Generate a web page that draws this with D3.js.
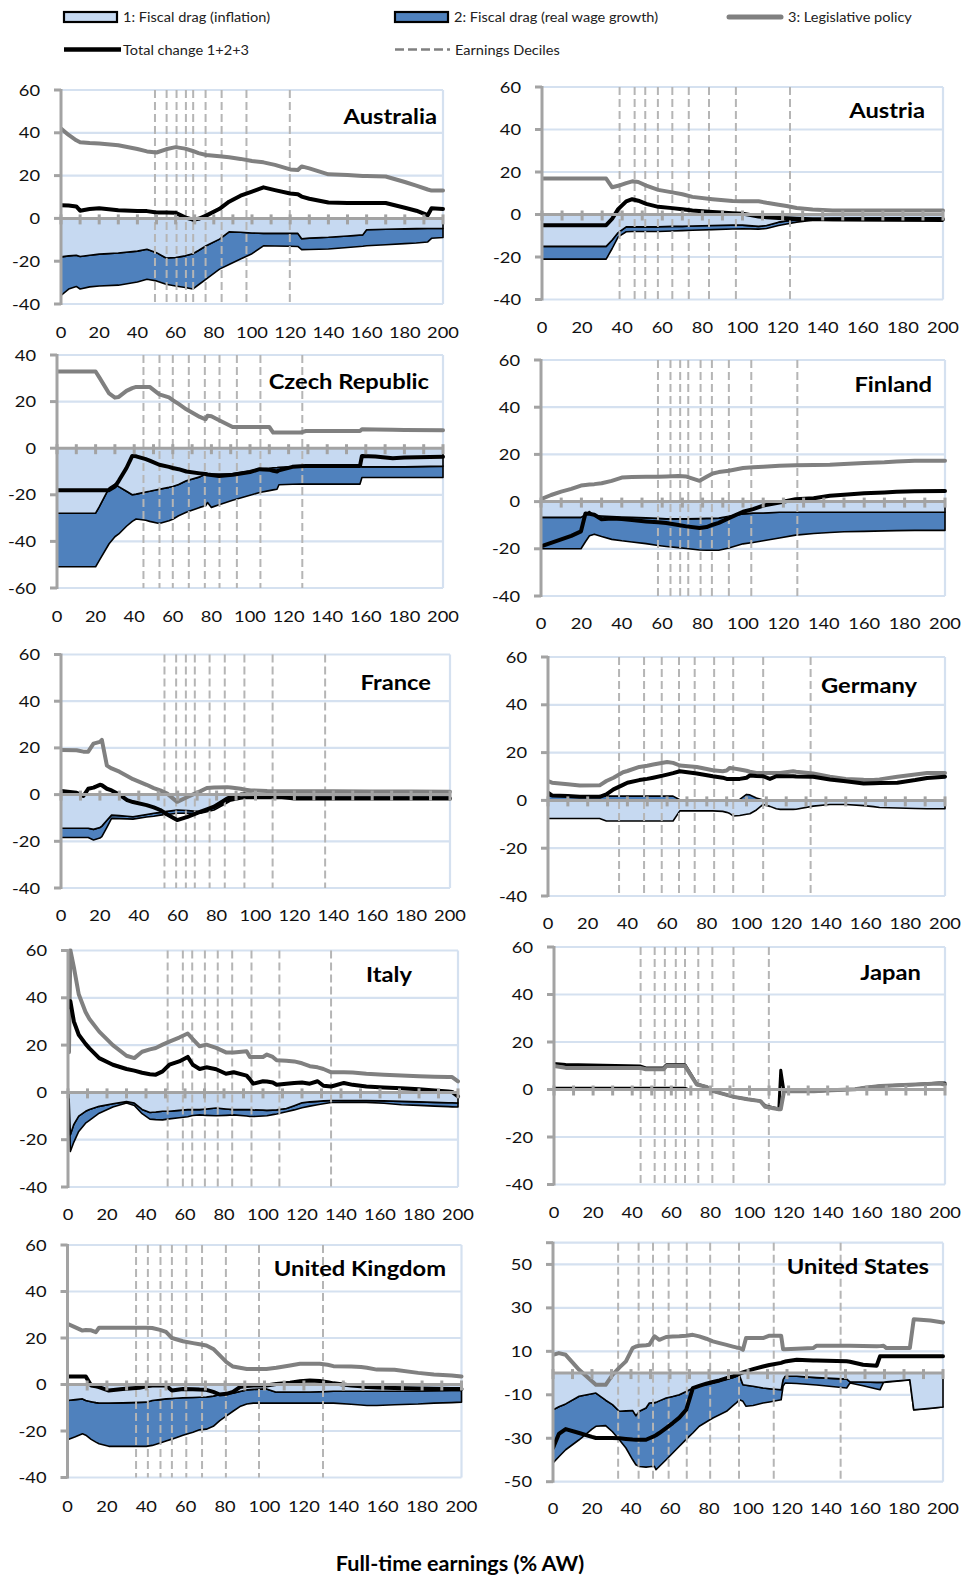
<!DOCTYPE html>
<html>
<head>
<meta charset="utf-8">
<script src="https://cdn.jsdelivr.net/npm/d3@7"></script>
<style>
  html, body { margin: 0; padding: 0; background: #fff; }
  svg { display: block; font-family: Lato, "Open Sans", sans-serif; }
</style>
</head>
<body>
<svg id="chart" width="961" height="1580"></svg>
<script>
// ---------- shared axis values ----------
const xTickLabels = [0, 20, 40, 60, 80, 100, 120, 140, 160, 180, 200];
const xMinorTicks = d3.range(0, 201, 10);
const yTicksStd = [-40, -20, 0, 20, 40, 60];
const yTicksCzech = [-60, -40, -20, 0, 20, 40];
const yTicksUS = [-50, -30, -10, 10, 30, 50];

// ---------- Australia ----------
const ausEarn = [0,4,8,10,15,20,30,40,45,50,55,60,65,69,72,76,83,88,94,100,106,112,120,124,126,130,140,150,158,160,170,180,186,192,194,200];
const ausInflation = [-18,-17.5,-17.2,-17.8,-17.2,-16.7,-16.2,-15.3,-14.4,-16,-18.5,-18.3,-17.5,-16.5,-15,-12.8,-9.7,-6.3,-6.5,-6.8,-7,-7,-7,-7,-9.5,-9.2,-8.8,-8.2,-7.7,-5.3,-5.1,-4.9,-4.8,-4.7,-4.7,-4.7];
const ausRealWage = [-18,-15.5,-14.6,-15.2,-14.8,-14.9,-15,-14.4,-14,-13.2,-12.3,-13.3,-14.8,-16.5,-16,-15.6,-14,-15.2,-12.5,-9.7,-5.8,-5.9,-6,-6.1,-5.1,-5.3,-5.5,-5.4,-5.3,-7.5,-7.2,-6.9,-6.7,-6.3,-4.6,-4.2];
const ausLegislative = [42,39,36.5,35.6,35.2,35,34.2,32.4,31.3,30.8,32.3,33.3,32.6,31.5,30.5,29.6,29,28.6,27.8,26.8,26.2,25,22.9,22.6,24.3,23.4,20.6,20.3,19.8,19.8,19.6,17,15.3,13.5,13,13];
const ausTotal = [6.2,6,5.6,3.6,4.4,4.7,3.8,3.5,3.4,2.8,2.8,2.6,0.5,-0.6,-0.2,1.3,4.5,7.8,10.6,12.5,14.5,13.2,11.6,11.3,10.2,9.2,7.4,7.2,7.2,7.2,7.2,5,3.6,1.5,4.7,4.4];
const ausDeciles = [49.2,55.3,60.5,65.4,69.2,75.7,84.1,97.1,119.8];

// ---------- Austria ----------
const autEarn = [0,10,20,32,35,38,42,45,48,52,58,65,70,75,85,95,100,108,112,118,122,127,135,140,145,160,180,200];
const autInflation = [-15,-15,-15,-15,-12,-8.5,-5.8,-5.8,-5.8,-5.8,-5.8,-5.6,-5.6,-5.4,-5.2,-5,-5,-5.6,-5.2,-3.6,-3,-2.6,-2.2,-2,-1.8,-1.7,-1.6,-1.6];
const autRealWage = [-6,-6,-6,-6,-4,-2,-2.3,-2.2,-2.2,-2.2,-2.2,-2.2,-2,-2,-1.9,-1.8,-1.7,-1.3,-1.4,-1.6,-1.5,-1,-0.5,-0.7,-1,-1.2,-1.4,-1.5];
const autLegislative = [16.9,16.9,16.9,16.9,12.8,13.5,14.8,15.6,15.3,13.6,11.6,10.4,9.5,8.3,7.2,6.3,6.2,6.2,5.5,4.6,4,3.1,2.3,2.1,1.9,1.9,1.9,1.9];
const autTotal = [-5,-5,-5,-5,-2,2.5,6.2,7.2,6.5,5,3.6,3,2.5,1.9,1.2,0.6,0.4,-0.9,-1.3,-1.6,-1.8,-2,-2.2,-2.2,-2.2,-2.2,-2.2,-2.2];
const autDeciles = [38.7,46.2,51.5,57.8,65,73.2,83.3,96.7,123.7];

// ---------- Czech Republic ----------
const czeEarn = [0,10,20,22,27,30,32,36,39,41,46,48,53,58,60,63,67,74,77,78,80,84,91,100,105,110,112,114,115,122,126,129,134,145,157,158,165,174,180,200];
const czeInflation = [-27.9,-27.9,-27.9,-25,-17,-15.4,-16.5,-18.5,-20,-19.7,-18.8,-18.5,-17.6,-16.8,-16.4,-15.6,-14,-12.3,-11.1,-11.1,-11.1,-11.1,-11,-9.8,-9,-8.6,-8.4,-8.3,-8.2,-7.9,-7.6,-7.6,-7.6,-7.6,-7.6,-8,-8,-8,-8,-7.7];
const czeRealWage = [-23,-23,-23,-23,-24,-22.6,-20.3,-15,-11.4,-10.7,-12.1,-12.9,-14.7,-14.3,-14.1,-13.4,-13.5,-13.1,-13.6,-12.2,-14.3,-13.2,-11.3,-10.4,-10,-9.6,-9.5,-9.3,-7.5,-7.6,-7.8,-7.8,-7.8,-7.8,-7.8,-4.6,-4.6,-4.6,-4.6,-4.9];
const czeLegislative = [32.9,32.9,32.9,30.3,23.5,21.7,22,24.6,25.8,26.3,26.3,26.3,23.1,21.8,20.6,19,16.7,13.4,12.4,13.9,13.7,12,9.1,9.1,9.1,9.1,6.7,6.7,6.7,6.7,6.7,7.4,7.4,7.4,7.4,8.1,8,7.9,7.8,7.7];
const czeTotal = [-18,-18,-18,-18,-18,-16.5,-14,-8.5,-3.3,-3.5,-4.7,-5.3,-7.1,-8,-8.5,-9,-10,-10.8,-11.1,-11.3,-11.5,-11.9,-11.4,-10.2,-9,-9.2,-9.7,-10,-9.5,-8,-7.7,-7.6,-7.6,-7.6,-7.6,-3.3,-3.6,-4.3,-4,-3.7];
const czeDeciles = [44.8,53.1,60,68.3,76.6,84.2,93.2,105.4,127.1];

// ---------- Finland ----------
const finEarn = [0,5,10,15,19.8,22,24,26.4,30,35,40,45,52,58,62,68,72,78.5,82,85,88,93,100,105,110,118,126,135,143,150,160,170,176,185,200];
const finInflation = [-6.7,-6.7,-6.7,-6.7,-6.7,-5.5,-4.2,-5.9,-6.1,-6.3,-6.5,-6.7,-6.9,-7.1,-7.3,-7.3,-7.3,-7.2,-7.1,-7.1,-7,-6.2,-5.2,-4.9,-4.8,-4.5,-4.5,-4.5,-4.5,-4.5,-4.5,-4.5,-4.5,-4.5,-4.5];
const finRealWage = [-13.3,-13.3,-13.3,-13.3,-13.3,-11.5,-10.3,-7.9,-8.7,-9.7,-10.1,-10.4,-10.9,-11.5,-11.7,-12.2,-12.6,-13.3,-13.5,-13.5,-13.6,-13.5,-12.7,-12.4,-11.8,-10.9,-9.7,-9,-8.6,-8.3,-8.1,-7.9,-7.8,-7.7,-7.7];
const finLegislative = [1,2.8,4.2,5.4,6.8,7,7.2,7.4,7.8,8.8,10.2,10.4,10.5,10.5,10.6,10.8,10.6,8.8,10.5,11.9,12.5,13.1,14.2,14.6,14.8,15.2,15.4,15.5,15.6,15.9,16.4,16.7,17,17.3,17.3];
const finTotal = [-19,-17.5,-16,-14.5,-12.6,-5,-5.2,-5.6,-7.5,-7.2,-7.4,-7.8,-8.4,-8.8,-9.1,-9.9,-10.5,-11.2,-10.8,-9.8,-9,-7,-4.3,-3.2,-1.7,-0.4,1,1.4,2.5,2.9,3.5,3.9,4.2,4.4,4.5];
const finDeciles = [57.9,64.1,68.9,72.9,79,84.6,93,104.1,126.9];

// ---------- France ----------
const fraEarn = [0,8,11.5,14,16.7,20,21,23.6,26,30,34,37,44,47.7,51,54.6,59.7,65,71.8,75,78.7,85.5,87.3,92.4,94,97.6,106,120,140,160,180,200];
const fraInflation = [-14.4,-14.4,-14.4,-14.4,-14.9,-14.1,-13.5,-11,-8.8,-9,-9.3,-9.5,-8.5,-8,-7.6,-7.2,-6.6,-6.8,-7.3,-6.5,-5.6,-2.8,-2,-1.2,-1,-1,-1,-1,-1,-1,-1,-1];
const fraRealWage = [-4,-4,-4,-4,-4.5,-4.5,-4.5,-3,-1.4,-1.3,-1.1,-1,-1.1,-1.3,-1.2,-1.3,-1.4,-1.2,-0.7,-0.8,-1,-0.7,-0.7,-0.7,-0.7,-0.7,-0.7,-0.7,-0.7,-0.7,-0.7,-0.7];
const fraLegislative = [19.1,19,18.4,18.4,21.8,22.6,23.4,12.4,11.2,9.8,8,6.6,4.2,2.8,1.8,0.4,-3.1,-1,1.5,2.8,3,3.2,3,2.5,2.2,1.8,1.5,1.4,1.4,1.3,1.3,1.2];
const fraTotal = [1.6,0.8,-0.6,2.5,3,4.2,4,2.5,1.8,0,-2.4,-3.2,-4.5,-5.5,-6.6,-8.5,-10.9,-9.5,-7.3,-6.3,-5.2,-1.7,-1,0,0,-0.1,-0.3,-1.7,-1.7,-1.7,-1.7,-1.7];
const fraDeciles = [53.2,59.2,64.2,68.8,76.4,84.2,94.3,108.8,135.8];

// ---------- Germany ----------
const deuEarn = [0,2,10,16,26,29.4,33,37.8,40,46,50,53,60,63,66.4,75,83,88,90,91.6,93.3,96.6,100,101.7,105,108.4,111.8,115,117,123.5,125,133.6,142,150,159,164,167,176,185,191,200];
const deuInflation = [-7.6,-7.6,-7.6,-7.6,-7.6,-8.6,-8.6,-8.6,-8.6,-8.6,-8.6,-8.6,-8.6,-8.6,-4.4,-4.4,-4.4,-4.6,-5,-5.5,-6.5,-6.3,-5.8,-5.6,-4,-1.7,-2.5,-3.5,-3.75,-3.75,-3.7,-2.4,-1.7,-1.7,-2.2,-2.6,-3,-3.2,-3.4,-3.5,-3.5];
const deuRealWage = [1.8,1.8,1.8,1.8,1.8,1.8,1.8,1.8,1.8,1.8,1.8,1.8,1.8,1.8,0.3,0.3,0.3,0.3,0.3,0.3,0.3,0.4,2.5,2.3,1,0.2,0.1,0.1,0.1,0.1,0.1,0.1,0.1,0.1,0.1,0.1,0.1,0.1,0.1,0.1,0.1];
const deuLegislative = [8.1,7.4,6.8,6.25,6.3,8.1,9.5,11.8,12.3,14,14.5,15,16.1,15.7,14.6,14,12.6,12.2,12.5,13.6,13.4,12.9,12.4,12,11.5,11.5,11.5,11.5,11.5,12.2,12,11.25,9.9,9,8.6,8.5,8.8,9.9,10.8,11.5,11.5];
const deuTotal = [3.2,2.1,1.8,1.5,1.5,2.5,4.6,6.5,7.4,8.5,9,9.5,10.8,11.4,12.2,11.25,10.1,9.5,9,9,9,9,9.5,10.4,10.2,10.1,9,10.1,10.1,10.1,10,9.9,8.75,8,7.1,7.2,7.3,7.4,8.5,9.4,9.9];
const deuDeciles = [35.8,48.4,57.3,66,73.9,83.7,93.3,108.4,132.3];

// ---------- Italy ----------
const itaEarn = [0.5,1.2,3,5.5,9,11,16,23,30,34,38,42,45,48.5,52,57,61.4,64,67.5,71,76,81,85,91.6,93.3,95,100,102,105,107,112,116,120,124,128,131,135,141.5,146,153,162,171,180,188,195,197,200];
const itaInflation = [-1,-17.9,-13.5,-10,-8,-7.2,-5.9,-4.8,-3.9,-4.5,-7.2,-8.5,-8.3,-8,-8,-7.6,-7.3,-7.3,-7.3,-7,-6.6,-7,-7.3,-7.3,-7.3,-7.4,-7.5,-7.6,-7.5,-7.4,-6.8,-5.6,-4.4,-4,-3.8,-3.6,-3.4,-3.4,-3.4,-3.4,-3.6,-3.8,-4,-4.2,-4.4,-4.4,-4.5];
const itaRealWage = [-0.1,-7.1,-7.5,-6.5,-5,-4.6,-2.9,-1.4,-0.6,-1,-1.8,-2.8,-3.2,-3.6,-3.2,-3.1,-3,-2.5,-2.2,-2.7,-3.3,-2.7,-2.2,-2.7,-2.9,-2.8,-2.5,-2.3,-1.9,-1.7,-1.4,-1.8,-2.1,-1.8,-1.4,-1.2,-0.9,-0.8,-0.8,-0.8,-1,-1.4,-1.5,-1.6,-1.6,-1.7,-1.7];
const itaLegislative = [17,60.2,53,41.5,34,31,25.7,20,15.5,14.5,17.2,18.2,18.8,20.2,21.5,23.2,24.9,22.5,19.5,20.2,18.8,16.9,16.9,17.4,15,15,15,16,15,13.6,13.4,13.1,12.3,11.1,10.6,9.9,8.5,8.5,8.4,7.9,7.5,7.1,6.8,6.6,6.5,6.5,4.7];
const itaTotal = [36,38.6,30,24.4,20.5,18.6,14.5,11.7,9.9,9.2,8.3,7.7,7.5,8.9,11.7,13.1,15,11.7,9.9,10.6,9.8,7.9,8.5,7.1,5.5,3.7,4.7,4.6,4.2,3.2,3.7,4,4.2,3.7,4.7,2.8,2.5,4,3.2,2.5,2.1,1.8,1.3,0.8,0.4,0.2,-1.7];
const itaDeciles = [51.1,58.9,63.7,70.2,76.8,84.2,94.1,108.4,134.9];

// ---------- Japan ----------
const jpnEarn = [0,6,44,47,56,57.5,67,69.5,73,78,81.5,92,99,105.6,108,115,116,117.6,119,133,142,154,159,167,185,197,200];
const jpnInflation = [0.8,0.8,0.8,0.8,0.8,0.8,0.8,0,0,0,0,0,0,0,0,0,0,0,0,0,0,0,0,0,0,0,0];
const jpnRealWage = [0,0,0,0,0,0,0,0,0,0,0,0,0,0,0,0,0,0,0,0,0,0,0,0,0,0,0];
const jpnLegislative = [9.9,9.1,9.1,8.5,8.5,9.9,9.9,6.7,2.1,1.1,-0.7,-3.1,-4.1,-4.9,-7.3,-8.3,-8.3,-1,-0.7,-0.7,-0.3,0.1,0.7,1.5,2.1,2.5,2.1];
const jpnTotal = [10.9,10.5,9.9,9.1,9.1,10.4,10.4,7,2.3,1.1,-0.7,-3.1,-4.1,-4.9,-6.8,-8.3,8.1,-0.6,-0.7,-0.7,-0.3,0.1,0.7,1.5,2.1,2.7,2.7];
const jpnDeciles = [44.3,51.5,56.7,62.3,67,73.8,81,91.8,109.9];

// ---------- United Kingdom ----------
const gbrEarn = [0,4,7.6,9.3,12,14.4,16,21,28,36.5,40,43,47,50,53,58.6,63.7,67,70.5,74,77.3,80.7,84,87.5,91,94.3,101,106,113,118,123,128,132,135,144,149,152,157,166,178,186,195,200];
const gbrInflation = [-6.9,-6.5,-6.2,-6.9,-7.4,-7.8,-8,-8,-7.9,-7.7,-7.6,-6.9,-6.5,-6.2,-6,-5.7,-5.6,-5.5,-5.4,-5,-4.3,-4,-3.7,-3,-2.3,-2.1,-1.9,-3.3,-3.3,-3.3,-3.2,-3.1,-3,-2.9,-2.9,-2.9,-2.9,-2.9,-2.9,-2.8,-2.7,-2.6,-2.6];
const gbrRealWage = [-16.9,-16,-15,-14.9,-16.2,-17,-17.5,-18.6,-18.7,-18.9,-19,-19.3,-18.7,-18.1,-17.5,-16.1,-14.9,-14,-13.8,-13,-11.2,-9.5,-7.8,-6.5,-6.1,-5.9,-6.1,-4.7,-4.7,-4.7,-4.8,-4.9,-5,-5.1,-5.6,-5.9,-6.1,-6.1,-5.8,-5.6,-5.3,-5.2,-5];
const gbrLegislative = [26.1,24.6,23.2,23.4,23.3,22.5,24.4,24.4,24.4,24.4,24.4,24.3,23.5,22.6,20,18.6,17.8,17.3,16.8,15.3,12.5,9.6,7.7,7.2,6.7,6.7,6.7,7.2,8.2,8.9,8.9,8.9,8.5,7.9,7.7,7.5,7.2,6.4,6.3,5,4.3,3.9,3.4];
const gbrTotal = [3.4,3.4,3.4,3.4,-0.4,-0.8,-1.1,-2.6,-1.9,-1.4,-0.8,-0.4,-0.4,-0.4,-2.6,-1.9,-2,-2.2,-2.3,-3.2,-4.3,-4,-3.2,-1.1,-0.7,-0.4,-0.4,0.2,0.8,1.4,1.7,1.5,1,0.5,-0.4,-0.8,-1.1,-1.3,-1.5,-1.7,-1.8,-1.9,-1.9];
const gbrDeciles = [34.8,40.8,47.2,53,60.3,68.3,80.4,97.2,129.7];

// ---------- United States ----------
const usaEarn = [0,3,6.5,13.4,20,22,27,30.5,34,37.4,40.8,42.5,44.3,47.7,49.4,52,52.8,54.5,58,61.4,64.8,68.3,70,71.7,75,78.6,82,85.4,89,92.3,94,95.7,97.4,99,102.6,107.7,111,117,118,119,125,133.4,135.2,150.6,152.3,159,166,167.7,169.5,171,183,185,193.5,200];
const usaInflation = [-16.9,-15.5,-14.2,-10.7,-9.5,-9.2,-12.5,-14.5,-17.6,-17.4,-17.2,-19.6,-17.6,-16.1,-13.8,-13.6,-13.5,-12.8,-11.5,-10.8,-10,-8.5,-7.7,-7,-5.8,-5.2,-4.6,-3.7,-2.8,-2,-1.5,-1.2,-5.4,-5.6,-6.1,-6.9,-7.2,-7.7,-3,-1.5,-1.5,-2,-2.1,-2.8,-4,-4.1,-4.3,-4.3,-4.2,-4,-3.1,-16.9,-16.2,-15.6];
const usaRealWage = [-24.5,-23,-21.1,-20,-16.3,-15.3,-11.7,-12.5,-13.1,-17.1,-22.6,-22.6,-25.4,-27.2,-29.3,-29.3,-31,-30.2,-28.4,-26,-23.7,-22,-21.3,-20.6,-18.7,-17.3,-16.1,-15.5,-14.8,-13,-12.2,-11.1,-7.6,-9.7,-8.8,-6.9,-6.1,-4.6,-3,-3.1,-3.3,-3.4,-3.4,-4.1,-0.6,-1.7,-3,-3.4,-0.1,-0.2,-0.05,-0.05,-0.05,-0.05];
const usaLegislative = [8.4,9.2,8.4,1.5,-3.8,-5.4,-5.4,-0.8,2.5,5.4,11.5,12.2,12.6,12.8,13,16.9,16.5,15.3,16.6,16.8,16.9,17.2,17.4,17.6,16.9,15.8,14.6,13.8,13,12.2,11.8,11.5,10.7,16.1,16.1,16.1,17.2,17.2,11,11,11.2,11.5,12.6,12.6,12.6,12.5,12.3,12.4,12.6,11.5,11.5,24.8,24.2,23.3];
const usaTotal = [-34.5,-28,-25.8,-27.6,-29.4,-29.9,-29.9,-29.9,-30,-30.3,-30.6,-30.7,-30.7,-30.7,-30,-29,-28.6,-27.6,-25.3,-23,-20.5,-16.9,-12,-6.9,-5.9,-4.9,-4.1,-3.4,-2.4,-1.5,-0.9,-0.3,0.3,0.8,1.8,3,3.7,4.7,5,5.3,6.1,5.8,5.8,5.4,5.2,3.8,3.4,7.7,7.7,7.7,7.7,7.7,7.7,7.7];
const usaDeciles = [33.4,43.9,51.3,59.3,68.6,80.6,95.4,113.2,147.5];

// ---------- styling ----------
const COL = {
  inflation: "#c6d9f1",
  realWage: "#4f81bd",
  legislative: "#808080",
  total: "#000000",
  decile: "#b5b5b5",
  grid: "#d5e1f0",
  axis: "#a3a3a3",
  text: "#111111"
};
const TEXT_SX = 1.18;   // the type in this figure is set wide
const LINE_W = 4;

const svg = d3.select("#chart");

function wideText(parent, x, y, str, o = {}) {
  return parent.append("text")
    .attr("transform", `translate(${x},${y}) scale(${o.sx || TEXT_SX},1)`)
    .attr("text-anchor", o.anchor || "start")
    .style("font-size", (o.size || 15.5) + "px")
    .style("font-weight", o.weight || 400)
    .attr("fill", o.fill || COL.text)
    .text(str);
}

// ---------- panel layout ----------
const panels = [
  { name: "Australia", earn: ausEarn, infl: ausInflation, wage: ausRealWage, legis: ausLegislative, total: ausTotal, deciles: ausDeciles,
    yDomain: [-40, 60], yTicks: yTicksStd, left: 61, right: 443, top: 90, bottom: 304, labelY: 332, titleX: 437, titleY: 124 },
  { name: "Austria", earn: autEarn, infl: autInflation, wage: autRealWage, legis: autLegislative, total: autTotal, deciles: autDeciles,
    yDomain: [-40, 60], yTicks: yTicksStd, left: 542, right: 943, top: 87, bottom: 299.5, labelY: 327, titleX: 925, titleY: 118 },
  { name: "Czech Republic", earn: czeEarn, infl: czeInflation, wage: czeRealWage, legis: czeLegislative, total: czeTotal, deciles: czeDeciles,
    yDomain: [-60, 40], yTicks: yTicksCzech, left: 57, right: 443, top: 355, bottom: 588, labelY: 616, titleX: 429, titleY: 389 },
  { name: "Finland", earn: finEarn, infl: finInflation, wage: finRealWage, legis: finLegislative, total: finTotal, deciles: finDeciles,
    yDomain: [-40, 60], yTicks: yTicksStd, left: 541, right: 945, top: 360, bottom: 596, labelY: 623, titleX: 932, titleY: 392 },
  { name: "France", earn: fraEarn, infl: fraInflation, wage: fraRealWage, legis: fraLegislative, total: fraTotal, deciles: fraDeciles,
    yDomain: [-40, 60], yTicks: yTicksStd, left: 61, right: 450, top: 654.5, bottom: 888, labelY: 915.5, titleX: 431, titleY: 690 },
  { name: "Germany", earn: deuEarn, infl: deuInflation, wage: deuRealWage, legis: deuLegislative, total: deuTotal, deciles: deuDeciles,
    yDomain: [-40, 60], yTicks: yTicksStd, left: 548, right: 945, top: 657, bottom: 896, labelY: 923.5, titleX: 917, titleY: 693 },
  { name: "Italy", earn: itaEarn, infl: itaInflation, wage: itaRealWage, legis: itaLegislative, total: itaTotal, deciles: itaDeciles,
    yDomain: [-40, 60], yTicks: yTicksStd, left: 68, right: 458, top: 950.5, bottom: 1187, labelY: 1214.5, titleX: 412, titleY: 982 },
  { name: "Japan", earn: jpnEarn, infl: jpnInflation, wage: jpnRealWage, legis: jpnLegislative, total: jpnTotal, deciles: jpnDeciles,
    yDomain: [-40, 60], yTicks: yTicksStd, left: 554, right: 945, top: 947, bottom: 1184.5, labelY: 1212.5, titleX: 921, titleY: 980,
    legislativeOnTop: true },
  { name: "United Kingdom", earn: gbrEarn, infl: gbrInflation, wage: gbrRealWage, legis: gbrLegislative, total: gbrTotal, deciles: gbrDeciles,
    yDomain: [-40, 60], yTicks: yTicksStd, left: 67.5, right: 461.5, top: 1245, bottom: 1477.5, labelY: 1506, titleX: 446, titleY: 1276 },
  { name: "United States", earn: usaEarn, infl: usaInflation, wage: usaRealWage, legis: usaLegislative, total: usaTotal, deciles: usaDeciles,
    yDomain: [-50, 60], yTicks: yTicksUS, left: 553, right: 943, top: 1242.7, bottom: 1481.7, labelY: 1508, titleX: 929, titleY: 1274 }
];

function drawPanel(p, idx) {
  const x = d3.scaleLinear().domain([0, 200]).range([p.left, p.right]);
  const y = d3.scaleLinear().domain(p.yDomain).range([p.bottom, p.top]);
  const g = svg.append("g").attr("class", "panel");
  const [yMin, yMax] = p.yDomain;

  // horizontal gridlines and the light frame
  const gridVals = Array.from(new Set([...p.yTicks.filter(v => v !== 0), yMax, yMin]));
  g.selectAll("line.grid").data(gridVals).join("line")
    .attr("class", "grid")
    .attr("x1", x(0)).attr("x2", x(200))
    .attr("y1", d => y(d)).attr("y2", d => y(d))
    .attr("stroke", COL.grid).attr("stroke-width", 2.2);
  g.append("line")
    .attr("x1", x(200)).attr("x2", x(200)).attr("y1", y(yMax)).attr("y2", y(yMin))
    .attr("stroke", COL.grid).attr("stroke-width", 2.2);

  // fiscal drag components, stacked away from zero on each side
  const rows = p.earn.map((e, i) => ({ earn: e, infl: p.infl[i], wage: p.wage[i] }));
  const series = d3.stack().keys(["infl", "wage"]).offset(d3.stackOffsetDiverging)(rows);
  const area = d3.area()
    .x(d => x(d.data.earn))
    .y0(d => y(d[0]))
    .y1(d => y(d[1]));
  const clipId = "clip" + idx;
  g.append("clipPath").attr("id", clipId).append("rect")
    .attr("x", x(0)).attr("y", y(yMax) - 2)
    .attr("width", x(200) - x(0) + 3).attr("height", y(yMin) - y(yMax) + 4);
  const plot = g.append("g").attr("clip-path", `url(#${clipId})`);
  plot.append("path").datum(series[1]).attr("d", area)
    .attr("fill", COL.realWage).attr("stroke", "#000").attr("stroke-width", 1.6).attr("stroke-linejoin", "round");
  plot.append("path").datum(series[0]).attr("d", area)
    .attr("fill", COL.inflation).attr("stroke", "#000").attr("stroke-width", 1.6).attr("stroke-linejoin", "round");

  // earnings deciles
  plot.selectAll("line.decile").data(p.deciles).join("line")
    .attr("class", "decile")
    .attr("x1", d => x(d)).attr("x2", d => x(d))
    .attr("y1", y(yMax)).attr("y2", y(yMin))
    .attr("stroke", COL.decile).attr("stroke-width", 2).attr("stroke-dasharray", "8,4");

  // zero axis with minor ticks
  g.append("line")
    .attr("x1", x(0)).attr("x2", x(200)).attr("y1", y(0)).attr("y2", y(0))
    .attr("stroke", COL.axis).attr("stroke-width", 3);
  g.selectAll("line.xtick").data(xMinorTicks).join("line")
    .attr("class", "xtick")
    .attr("x1", d => x(d)).attr("x2", d => x(d))
    .attr("y1", y(0) - 4).attr("y2", y(0) + 6)
    .attr("stroke", COL.axis).attr("stroke-width", 3);

  // value axis
  g.append("line")
    .attr("x1", x(0)).attr("x2", x(0)).attr("y1", y(yMax) - 1).attr("y2", y(yMin) + 1)
    .attr("stroke", COL.axis).attr("stroke-width", 3);
  const yTickMarks = Array.from(new Set([...p.yTicks, yMax, yMin]));
  g.selectAll("line.ytick").data(yTickMarks).join("line")
    .attr("class", "ytick")
    .attr("x1", x(0) - 7).attr("x2", x(0))
    .attr("y1", d => y(d)).attr("y2", d => y(d))
    .attr("stroke", COL.axis).attr("stroke-width", 3);

  // legislative policy and total change
  const line = d3.line().x((d, i) => x(p.earn[i])).y(d => y(d));
  const drawLegis = () => plot.append("path").datum(p.legis).attr("d", line)
    .attr("fill", "none").attr("stroke", COL.legislative).attr("stroke-width", LINE_W)
    .attr("stroke-linejoin", "round").attr("stroke-linecap", "round");
  const drawTotal = () => plot.append("path").datum(p.total).attr("d", line)
    .attr("fill", "none").attr("stroke", COL.total).attr("stroke-width", p.legislativeOnTop ? 3 : LINE_W)
    .attr("stroke-linejoin", "round").attr("stroke-linecap", "round");
  if (p.legislativeOnTop) { drawTotal(); drawLegis(); } else { drawLegis(); drawTotal(); }

  // tick labels
  p.yTicks.forEach(v => wideText(g, x(0) - 21, y(v) + 5.5, String(v), { anchor: "end" }));
  xTickLabels.forEach(v => wideText(g, x(v), p.labelY + 5.5, String(v), { anchor: "middle" }));

  // country title
  wideText(g, p.titleX, p.titleY, p.name, { anchor: "end", size: 21, weight: 700, sx: 1.13, fill: "#000" });
}

panels.forEach(drawPanel);

// ---------- legend ----------
const lg = svg.append("g").attr("class", "legend");
const legendText = (x, y, s) => wideText(lg, x, y, s, { size: 13, sx: 1.12, fill: "#222" });
lg.append("rect").attr("x", 64).attr("y", 12).attr("width", 53).attr("height", 10)
  .attr("fill", COL.inflation).attr("stroke", "#000").attr("stroke-width", 2.2);
legendText(123, 22, "1: Fiscal drag (inflation)");
lg.append("rect").attr("x", 395).attr("y", 12).attr("width", 53).attr("height", 10)
  .attr("fill", COL.realWage).attr("stroke", "#000").attr("stroke-width", 2.2);
legendText(454, 22, "2: Fiscal drag (real wage growth)");
lg.append("line").attr("x1", 729).attr("x2", 781).attr("y1", 17).attr("y2", 17)
  .attr("stroke", COL.legislative).attr("stroke-width", 5).attr("stroke-linecap", "round");
legendText(788, 22, "3: Legislative policy");
lg.append("line").attr("x1", 64).attr("x2", 121).attr("y1", 49.5).attr("y2", 49.5)
  .attr("stroke", "#000").attr("stroke-width", 4.5);
legendText(123, 54.5, "Total change 1+2+3");
lg.append("line").attr("x1", 395).attr("x2", 450).attr("y1", 49.5).attr("y2", 49.5)
  .attr("stroke", COL.legislative).attr("stroke-width", 2.5).attr("stroke-dasharray", "9,4");
legendText(455, 54.5, "Earnings Deciles");

// ---------- shared axis title ----------
wideText(svg, 460, 1571, "Full-time earnings (% AW)", { anchor: "middle", size: 20, weight: 700, sx: 1.08, fill: "#000" });
</script>
</body>
</html>
